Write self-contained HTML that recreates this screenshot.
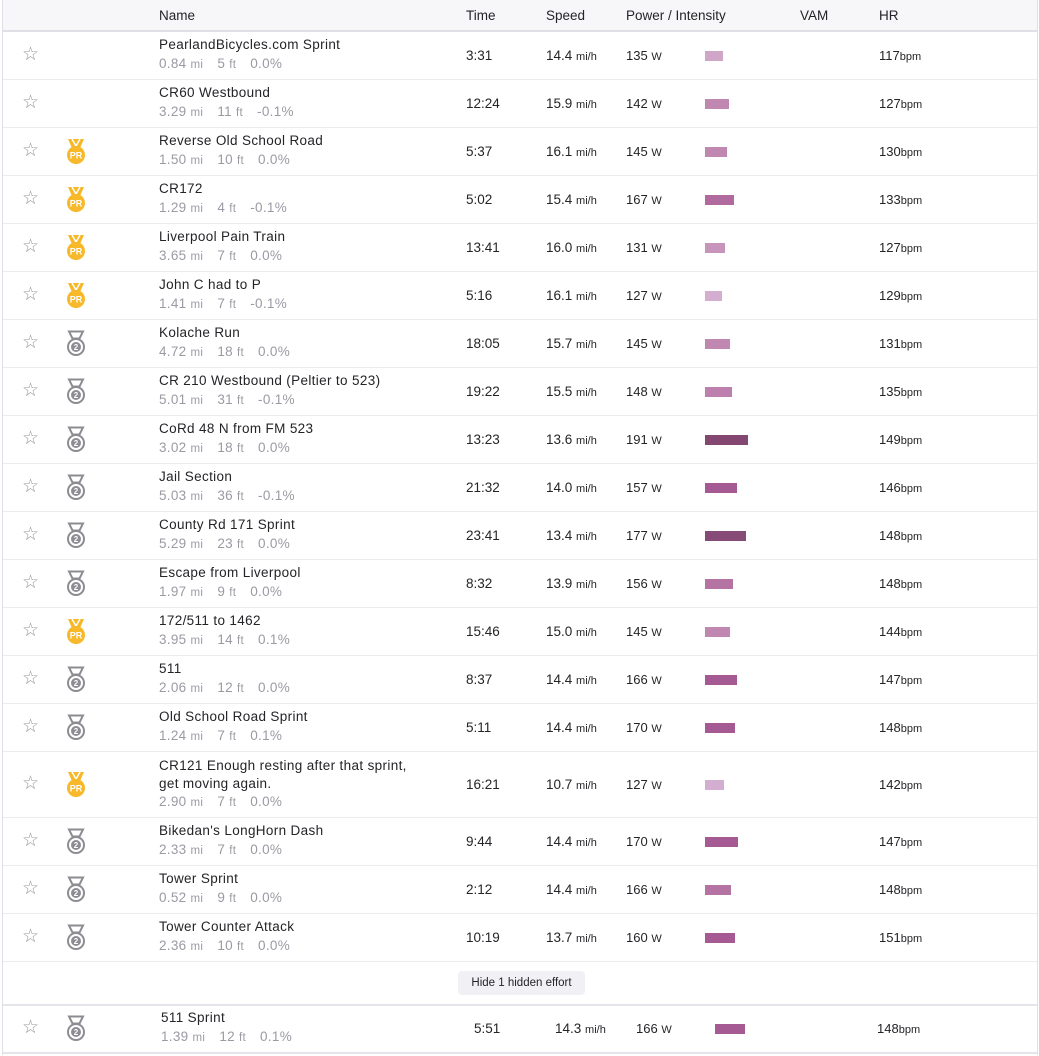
<!DOCTYPE html>
<html><head><meta charset="utf-8"><style>
*{margin:0;padding:0;box-sizing:border-box}
body{width:1039px;height:1056px;background:#fff;font-family:"Liberation Sans",sans-serif;color:#242428;position:relative;overflow:hidden}
.wrap{position:absolute;left:2px;top:0;width:1036px;height:1055px;border-left:1px solid #dfdfe8;border-right:1px solid #dfdfe8}
.hd{position:absolute;left:0;top:0;width:100%;height:32px;background:#f7f7fa;border-bottom:2px solid #dfdfe8;font-size:13.5px;color:#242428}
.hd span{position:absolute;top:8px}
.r{position:absolute;left:0;width:100%;border-bottom:1px solid #ececf0}
.r>*{position:absolute}
.st{left:19px;top:calc(50% - 11px);font-size:19px;color:#9a9aa0;line-height:20px}
.md{left:62px;top:calc(50% - 14px)}
.n{left:156px;top:calc(50% - 20px);font-size:13.5px;letter-spacing:.35px;line-height:18px;color:#242428;white-space:nowrap}
.s{left:156px;top:calc(50% - 1px);font-size:13.5px;letter-spacing:.3px;line-height:18px;color:#9a9aa3}
.s i{font-style:normal;font-size:11.5px}
.s b{font-weight:normal;display:inline-block;width:10px}
.t{left:463px;top:calc(50% - 9px);font-size:13.5px;line-height:18px}
.sp{left:543px;top:calc(50% - 9px);font-size:13.5px;line-height:18px}
.sp i,.pw i,.hr i{font-style:normal;font-size:11px}
.pw{left:623px;top:calc(50% - 9px);font-size:13px;line-height:18px}
.bar{left:702px;top:calc(50% - 5px);height:10px}
.hr{left:876px;top:calc(50% - 9px);font-size:13px;line-height:18px}
.btn{position:absolute;left:455px;top:971px;width:127px;height:24px;background:#f0f0f5;border-radius:4px;font-size:11.5px;text-align:center;line-height:24px;color:#242428}
</style></head><body>
<svg width="0" height="0" style="position:absolute"><defs>
<g id="pr"><path d="M3 1h16l-3.5 8h-9z" fill="#f7b829"/><path d="M7 1l4 7 4-7" fill="none" stroke="#fff" stroke-width="1.5"/><circle cx="11" cy="17" r="9" fill="#f7b829"/><text x="11" y="20.5" font-size="9" font-family="Liberation Sans" font-weight="bold" fill="#fff" text-anchor="middle">PR</text></g>
<g id="m2"><path d="M4 1.5h14l-3.5 7h-7z" fill="none" stroke="#8c8c92" stroke-width="2"/><circle cx="11" cy="17" r="8" fill="none" stroke="#8c8c92" stroke-width="2"/><circle cx="11" cy="17" r="5" fill="#8c8c92"/><text x="11" y="20" font-size="8" font-family="Liberation Sans" font-weight="bold" fill="#fff" text-anchor="middle">2</text></g>
</defs></svg>
<div class="wrap">
<div class="hd"><span style="left:156px">Name</span><span style="left:463px">Time</span><span style="left:543px">Speed</span><span style="left:623px">Power / Intensity</span><span style="left:797px">VAM</span><span style="left:876px">HR</span></div>

<div class="r" style="top:32px;height:48px"><span class="st">☆</span><span class="n">PearlandBicycles.com Sprint</span><span class="s">0.84 <i>mi</i><b></b> 5 <i>ft</i><b></b> 0.0%</span><span class="t">3:31</span><span class="sp">14.4 <i>mi/h</i></span><span class="pw">135 <i>W</i></span><span class="bar" style="width:18px;background:#d0a6c8"></span><span class="hr">117<i>bpm</i></span></div>
<div class="r" style="top:80px;height:48px"><span class="st">☆</span><span class="n">CR60 Westbound</span><span class="s">3.29 <i>mi</i><b></b> 11 <i>ft</i><b></b> -0.1%</span><span class="t">12:24</span><span class="sp">15.9 <i>mi/h</i></span><span class="pw">142 <i>W</i></span><span class="bar" style="width:24px;background:#c088b0"></span><span class="hr">127<i>bpm</i></span></div>
<div class="r" style="top:128px;height:48px"><span class="st">☆</span><svg class="md" width="22" height="28"><use href="#pr"/></svg><span class="n">Reverse Old School Road</span><span class="s">1.50 <i>mi</i><b></b> 10 <i>ft</i><b></b> 0.0%</span><span class="t">5:37</span><span class="sp">16.1 <i>mi/h</i></span><span class="pw">145 <i>W</i></span><span class="bar" style="width:22px;background:#c088b0"></span><span class="hr">130<i>bpm</i></span></div>
<div class="r" style="top:176px;height:48px"><span class="st">☆</span><svg class="md" width="22" height="28"><use href="#pr"/></svg><span class="n">CR172</span><span class="s">1.29 <i>mi</i><b></b> 4 <i>ft</i><b></b> -0.1%</span><span class="t">5:02</span><span class="sp">15.4 <i>mi/h</i></span><span class="pw">167 <i>W</i></span><span class="bar" style="width:29px;background:#b06a9e"></span><span class="hr">133<i>bpm</i></span></div>
<div class="r" style="top:224px;height:48px"><span class="st">☆</span><svg class="md" width="22" height="28"><use href="#pr"/></svg><span class="n">Liverpool Pain Train</span><span class="s">3.65 <i>mi</i><b></b> 7 <i>ft</i><b></b> 0.0%</span><span class="t">13:41</span><span class="sp">16.0 <i>mi/h</i></span><span class="pw">131 <i>W</i></span><span class="bar" style="width:20px;background:#c795bb"></span><span class="hr">127<i>bpm</i></span></div>
<div class="r" style="top:272px;height:48px"><span class="st">☆</span><svg class="md" width="22" height="28"><use href="#pr"/></svg><span class="n">John C had to P</span><span class="s">1.41 <i>mi</i><b></b> 7 <i>ft</i><b></b> -0.1%</span><span class="t">5:16</span><span class="sp">16.1 <i>mi/h</i></span><span class="pw">127 <i>W</i></span><span class="bar" style="width:17px;background:#d4aed0"></span><span class="hr">129<i>bpm</i></span></div>
<div class="r" style="top:320px;height:48px"><span class="st">☆</span><svg class="md" width="22" height="28"><use href="#m2"/></svg><span class="n">Kolache Run</span><span class="s">4.72 <i>mi</i><b></b> 18 <i>ft</i><b></b> 0.0%</span><span class="t">18:05</span><span class="sp">15.7 <i>mi/h</i></span><span class="pw">145 <i>W</i></span><span class="bar" style="width:25px;background:#c088b0"></span><span class="hr">131<i>bpm</i></span></div>
<div class="r" style="top:368px;height:48px"><span class="st">☆</span><svg class="md" width="22" height="28"><use href="#m2"/></svg><span class="n">CR 210 Westbound (Peltier to 523)</span><span class="s">5.01 <i>mi</i><b></b> 31 <i>ft</i><b></b> -0.1%</span><span class="t">19:22</span><span class="sp">15.5 <i>mi/h</i></span><span class="pw">148 <i>W</i></span><span class="bar" style="width:27px;background:#bd80ac"></span><span class="hr">135<i>bpm</i></span></div>
<div class="r" style="top:416px;height:48px"><span class="st">☆</span><svg class="md" width="22" height="28"><use href="#m2"/></svg><span class="n">CoRd 48 N from FM 523</span><span class="s">3.02 <i>mi</i><b></b> 18 <i>ft</i><b></b> 0.0%</span><span class="t">13:23</span><span class="sp">13.6 <i>mi/h</i></span><span class="pw">191 <i>W</i></span><span class="bar" style="width:43px;background:#834772"></span><span class="hr">149<i>bpm</i></span></div>
<div class="r" style="top:464px;height:48px"><span class="st">☆</span><svg class="md" width="22" height="28"><use href="#m2"/></svg><span class="n">Jail Section</span><span class="s">5.03 <i>mi</i><b></b> 36 <i>ft</i><b></b> -0.1%</span><span class="t">21:32</span><span class="sp">14.0 <i>mi/h</i></span><span class="pw">157 <i>W</i></span><span class="bar" style="width:32px;background:#a55a93"></span><span class="hr">146<i>bpm</i></span></div>
<div class="r" style="top:512px;height:48px"><span class="st">☆</span><svg class="md" width="22" height="28"><use href="#m2"/></svg><span class="n">County Rd 171 Sprint</span><span class="s">5.29 <i>mi</i><b></b> 23 <i>ft</i><b></b> 0.0%</span><span class="t">23:41</span><span class="sp">13.4 <i>mi/h</i></span><span class="pw">177 <i>W</i></span><span class="bar" style="width:41px;background:#864a76"></span><span class="hr">148<i>bpm</i></span></div>
<div class="r" style="top:560px;height:48px"><span class="st">☆</span><svg class="md" width="22" height="28"><use href="#m2"/></svg><span class="n">Escape from Liverpool</span><span class="s">1.97 <i>mi</i><b></b> 9 <i>ft</i><b></b> 0.0%</span><span class="t">8:32</span><span class="sp">13.9 <i>mi/h</i></span><span class="pw">156 <i>W</i></span><span class="bar" style="width:28px;background:#b473a3"></span><span class="hr">148<i>bpm</i></span></div>
<div class="r" style="top:608px;height:48px"><span class="st">☆</span><svg class="md" width="22" height="28"><use href="#pr"/></svg><span class="n">172/511 to 1462</span><span class="s">3.95 <i>mi</i><b></b> 14 <i>ft</i><b></b> 0.1%</span><span class="t">15:46</span><span class="sp">15.0 <i>mi/h</i></span><span class="pw">145 <i>W</i></span><span class="bar" style="width:25px;background:#c088b0"></span><span class="hr">144<i>bpm</i></span></div>
<div class="r" style="top:656px;height:48px"><span class="st">☆</span><svg class="md" width="22" height="28"><use href="#m2"/></svg><span class="n">511</span><span class="s">2.06 <i>mi</i><b></b> 12 <i>ft</i><b></b> 0.0%</span><span class="t">8:37</span><span class="sp">14.4 <i>mi/h</i></span><span class="pw">166 <i>W</i></span><span class="bar" style="width:32px;background:#a55a93"></span><span class="hr">147<i>bpm</i></span></div>
<div class="r" style="top:704px;height:48px"><span class="st">☆</span><svg class="md" width="22" height="28"><use href="#m2"/></svg><span class="n">Old School Road Sprint</span><span class="s">1.24 <i>mi</i><b></b> 7 <i>ft</i><b></b> 0.1%</span><span class="t">5:11</span><span class="sp">14.4 <i>mi/h</i></span><span class="pw">170 <i>W</i></span><span class="bar" style="width:30px;background:#a55a93"></span><span class="hr">148<i>bpm</i></span></div>
<div class="r" style="top:752px;height:66px"><span class="st">☆</span><svg class="md" width="22" height="28"><use href="#pr"/></svg><span class="n" style="top:5px">CR121 Enough resting after that sprint,<br>get moving again.</span><span class="s" style="top:41px">2.90 <i>mi</i><b></b> 7 <i>ft</i><b></b> 0.0%</span><span class="t">16:21</span><span class="sp">10.7 <i>mi/h</i></span><span class="pw">127 <i>W</i></span><span class="bar" style="width:19px;background:#d4aed0"></span><span class="hr">142<i>bpm</i></span></div>
<div class="r" style="top:818px;height:48px"><span class="st">☆</span><svg class="md" width="22" height="28"><use href="#m2"/></svg><span class="n">Bikedan's LongHorn Dash</span><span class="s">2.33 <i>mi</i><b></b> 7 <i>ft</i><b></b> 0.0%</span><span class="t">9:44</span><span class="sp">14.4 <i>mi/h</i></span><span class="pw">170 <i>W</i></span><span class="bar" style="width:33px;background:#a55a93"></span><span class="hr">147<i>bpm</i></span></div>
<div class="r" style="top:866px;height:48px"><span class="st">☆</span><svg class="md" width="22" height="28"><use href="#m2"/></svg><span class="n">Tower Sprint</span><span class="s">0.52 <i>mi</i><b></b> 9 <i>ft</i><b></b> 0.0%</span><span class="t">2:12</span><span class="sp">14.4 <i>mi/h</i></span><span class="pw">166 <i>W</i></span><span class="bar" style="width:26px;background:#b473a3"></span><span class="hr">148<i>bpm</i></span></div>
<div class="r" style="top:914px;height:48px"><span class="st">☆</span><svg class="md" width="22" height="28"><use href="#m2"/></svg><span class="n">Tower Counter Attack</span><span class="s">2.36 <i>mi</i><b></b> 10 <i>ft</i><b></b> 0.0%</span><span class="t">10:19</span><span class="sp">13.7 <i>mi/h</i></span><span class="pw">160 <i>W</i></span><span class="bar" style="width:30px;background:#a55a93"></span><span class="hr">151<i>bpm</i></span></div>
<div class="r" style="top:962px;height:44px;border-bottom:2px solid #e4e4ea"></div>
<div class="btn">Hide 1 hidden effort</div>
<div class="r" style="top:1006px;height:48px;border-bottom:2px solid #e4e4ea"><span class="st">☆</span><svg class="md" width="22" height="28"><use href="#m2"/></svg><span class="n" style="left:158px">511 Sprint</span><span class="s" style="left:158px">1.39 <i>mi</i><b></b> 12 <i>ft</i><b></b> 0.1%</span><span class="t" style="left:471px">5:51</span><span class="sp" style="left:552px">14.3 <i>mi/h</i></span><span class="pw" style="left:633px">166 <i>W</i></span><span class="bar" style="left:712px;width:30px;background:#a55a93"></span><span class="hr" style="left:874px">148<i>bpm</i></span></div>
</div>
</body></html>
